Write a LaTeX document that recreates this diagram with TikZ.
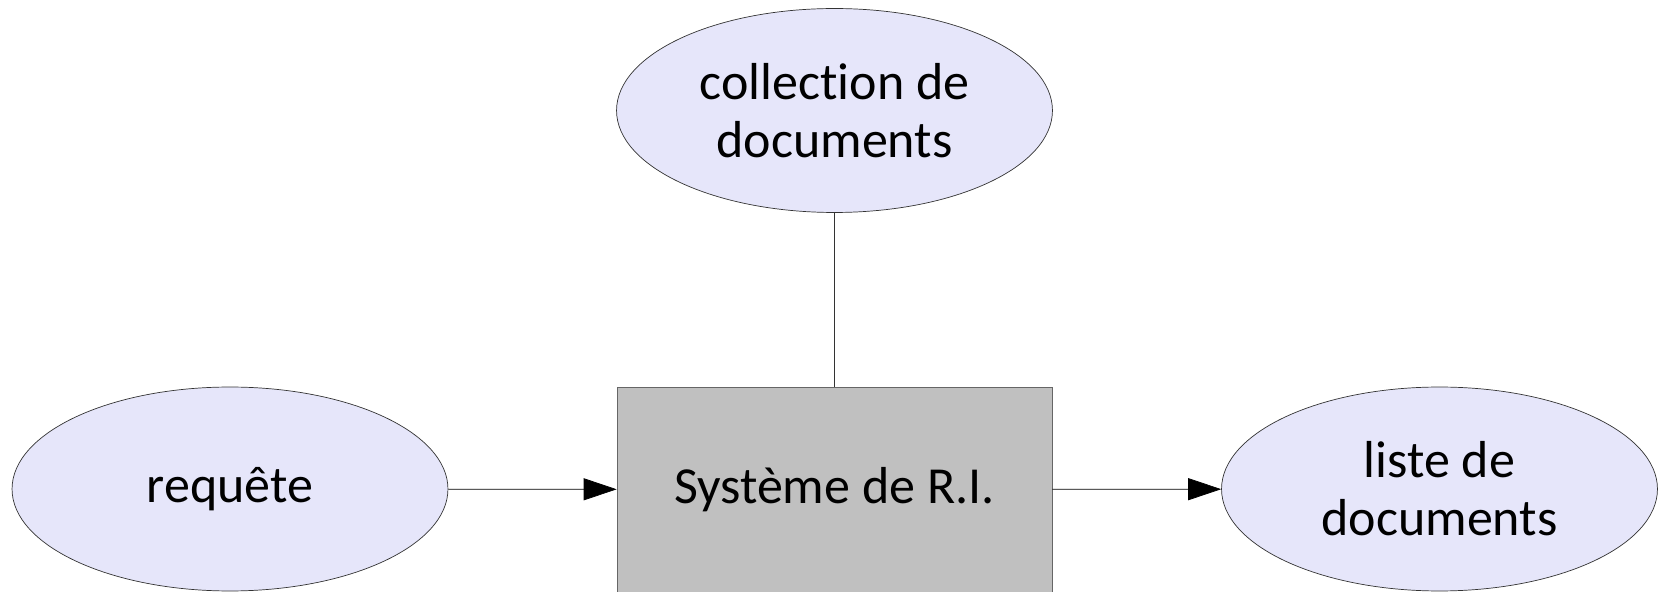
\documentclass[tikz,border=0pt]{standalone}
\usepackage{fontspec}
\setmainfont[Ligatures=NoCommon]{Carlito}
\usepackage{xcolor}
\usetikzlibrary{arrows.meta,shapes,positioning}
\definecolor{ovalfill}{RGB}{230,230,250}
\definecolor{boxfill}{RGB}{192,192,192}

\begin{document}
\begin{tikzpicture}[x=0.02cm,y=0.02cm]
      \tikzstyle{every node}=[font=\fontsize{29.6}{33}\selectfont, align=center, inner sep=0pt]
      \tikzstyle{oval}=[ellipse, draw=black!80, fill=ovalfill, minimum width=8.72cm, minimum height=4.08cm]
      \tikzstyle{sysbox}=[rectangle, draw=black!60, fill=boxfill, minimum width=8.7cm, minimum height=4.1cm]
      \tikzstyle{flow}=[-{Triangle[length=0.66cm,width=0.44cm]}, black, thin]
      \useasboundingbox (0,0) rectangle (1661,592);
      \node[oval] (C) at (834.5,481.5) {collection de\\documents};
      \node[oval] (Q) at (230,103) {requête};
      \node[sysbox] (S) at (834.5,102.5) {Système de R.I.};
      \node[oval] (L) at (1439.5,103) {liste de\\documents};
      \draw[black!80, thin] (C) -- (S);
      \draw[flow] (Q) -- (S);
      \draw[flow] (S) -- (L);
    \end{tikzpicture}
\end{document}
